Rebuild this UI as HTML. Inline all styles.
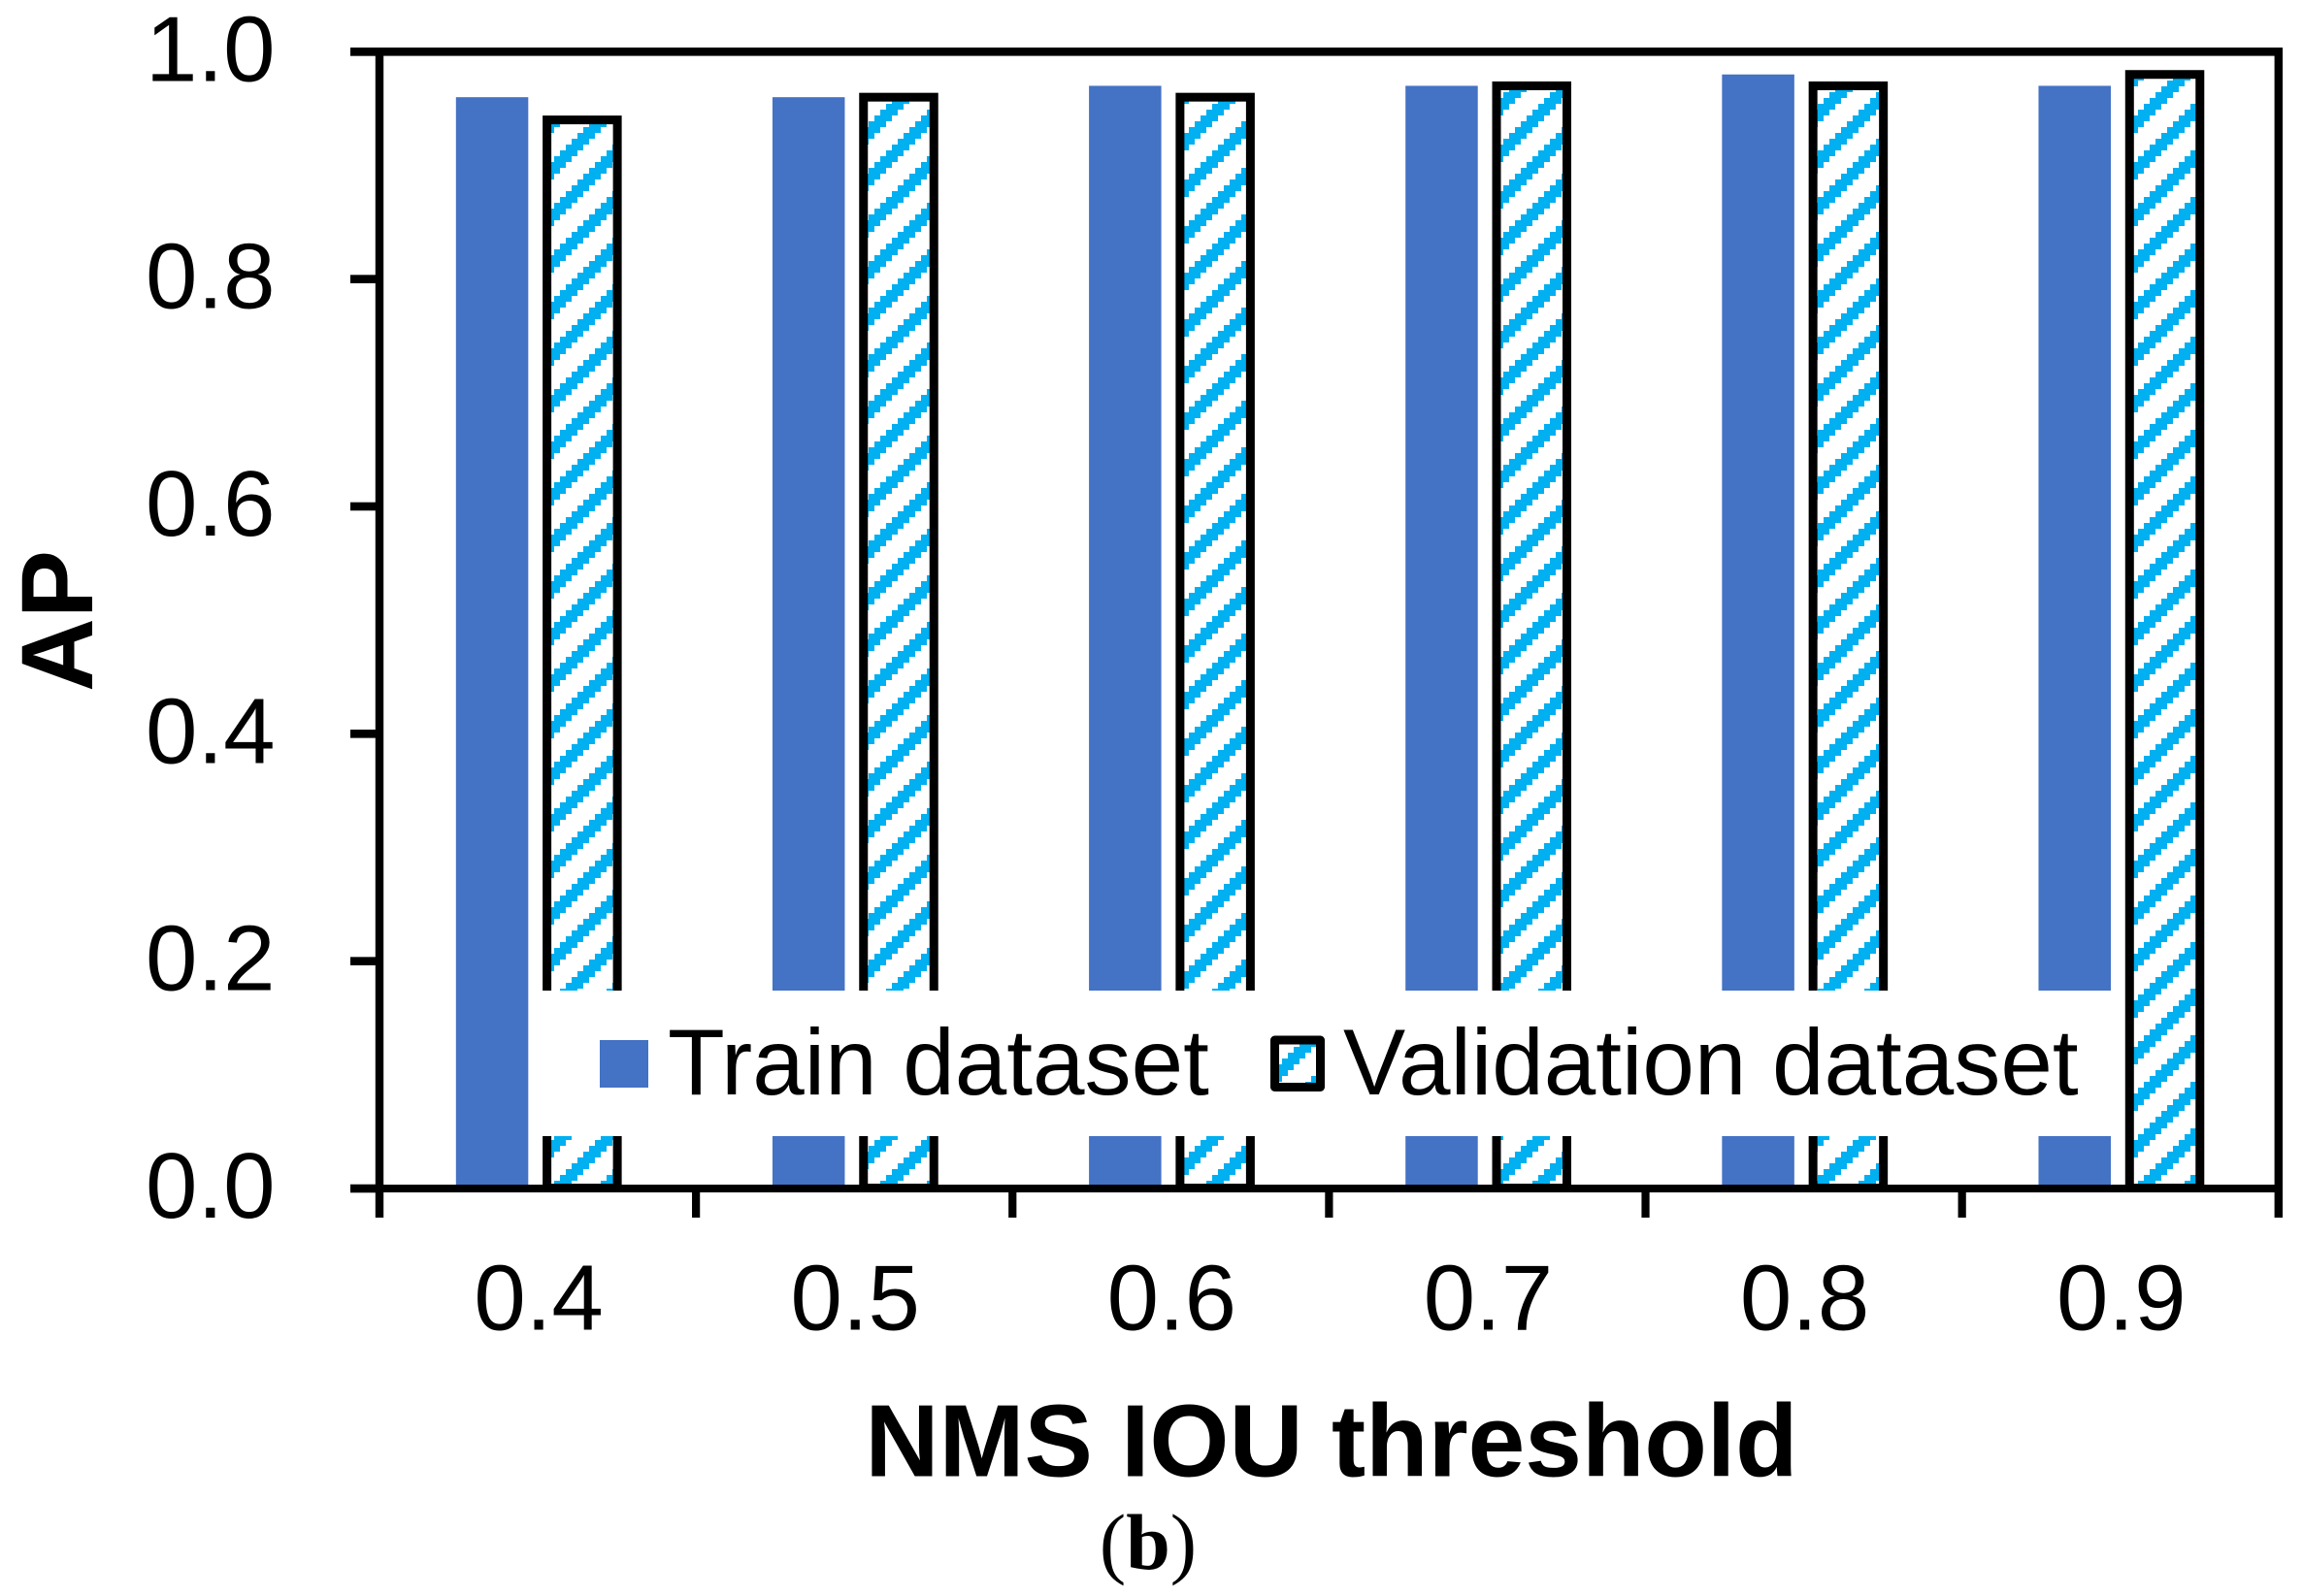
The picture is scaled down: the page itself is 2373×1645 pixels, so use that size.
<!DOCTYPE html>
<html lang="en">
<head>
<meta charset="utf-8">
<title>AP vs NMS IOU threshold</title>
<style>
  html, body { margin: 0; padding: 0; background: #ffffff; }
  body { width: 2373px; height: 1645px; overflow: hidden; }
  svg { display: block; }
  text { font-family: "Liberation Sans", Arial, sans-serif; fill: #000000; }
</style>
</head>
<body>
<svg id="chart" xmlns="http://www.w3.org/2000/svg" width="2373" height="1645" viewBox="0 0 2373 1645">
  <defs>
    <pattern id="stripe-pattern" patternUnits="userSpaceOnUse" x="1" y="5" width="48" height="48"></pattern>
  </defs>
  <rect x="0" y="0" width="2373" height="1645" fill="#ffffff"></rect>
  <g id="bars"></g>
  <g id="legend">
    <rect x="546" y="1021" width="1636" height="150" fill="#ffffff"></rect>
    <rect x="618" y="1072" width="50" height="49" fill="#4472C4"></rect>
    <text x="688" y="1128" font-size="96.2">Train dataset</text>
    <rect x="1313.5" y="1072" width="47" height="48.5" fill="url(#stripe-pattern)" stroke="#000000" stroke-width="9" stroke-linejoin="round"></rect>
    <text x="1384" y="1128" font-size="96.2">Validation dataset</text>
  </g>
  <g id="axes"></g>
  <g id="y-tick-labels"></g>
  <g id="x-tick-labels"></g>
  <text transform="translate(95 640) rotate(-90)" text-anchor="middle" font-size="105" font-weight="bold">AP</text>
  <text x="1372" y="1521.5" text-anchor="middle" font-size="105.5" font-weight="bold">NMS IOU threshold</text>
  <text x="1183" y="1617" text-anchor="middle" font-size="82" font-weight="bold" style="font-family:'Liberation Serif','Times New Roman',serif"><tspan font-weight="normal">(</tspan>b<tspan font-weight="normal">)</tspan></text>
</svg>
<script>
const categories = ["0.4", "0.5", "0.6", "0.7", "0.8", "0.9"];
const trainValues = [0.96, 0.96, 0.97, 0.97, 0.98, 0.97];
const validationValues = [0.94, 0.96, 0.96, 0.97, 0.97, 0.98];
const yTickLabels = ["0.0", "0.2", "0.4", "0.6", "0.8", "1.0"];

const NS = "http://www.w3.org/2000/svg";
const plotLeft = 391, plotRight = 2347.8, plotTop = 53.3, plotBottom = 1225;
const yMin = 0, yMax = 1;

function yScale(v) {
  return plotBottom - (v - yMin) / (yMax - yMin) * (plotBottom - plotTop);
}
function bandStart(i) {
  return plotLeft + i * (plotRight - plotLeft) / categories.length;
}
function bandCenter(i) {
  return bandStart(i) + (plotRight - plotLeft) / categories.length / 2;
}
function make(tag, attrs, parent) {
  const el = document.createElementNS(NS, tag);
  for (const k in attrs) el.setAttribute(k, attrs[k]);
  parent.appendChild(el);
  return el;
}

/* hatch: stair-stepped diagonal stripe */
const pattern = document.getElementById("stripe-pattern");
const cell = 6, tile = 48, stripeWidth = 18;
for (let j = 0; j < tile / cell; j++) {
  const left = (54 - cell * j) % tile;
  for (const shift of [0, -tile]) {
    const r = make("rect", { x: left + shift, y: j * cell, width: stripeWidth, height: cell, fill: "#00B0F0", "shape-rendering": "crispEdges" }, pattern);
    
    
  }
}

/* bars */
const barsGroup = document.getElementById("bars");
const trainOffset = -47, trainWidth = 74.5, validationOffset = 45.8, validationWidth = 72.5;
categories.forEach(function (cat, i) {
  const c = bandCenter(i);
  const ty = yScale(trainValues[i]);
  const tb = make("rect", { x: c + trainOffset - trainWidth / 2, y: ty, width: trainWidth, height: yScale(0) - ty, fill: "#4472C4" }, barsGroup);
  
  
  const vy = yScale(validationValues[i]);
  const vb = make("rect", { x: c + validationOffset - validationWidth / 2, y: vy, width: validationWidth, height: yScale(0) - vy - 0.5, fill: "url(#stripe-pattern)", stroke: "#000000", "stroke-width": 9 }, barsGroup);
  
  
});

/* last validation bar sits clear of the legend box */
const lastBar = barsGroup.lastChild;
document.getElementById("legend").after(lastBar);

/* axes */
const axes = document.getElementById("axes");
const tickOuterY = 1255, tickOuterX = 361;
const leftAxis = make("rect", { x: plotLeft - 4.2, y: plotTop - 4.3, width: 8.4, height: tickOuterY - plotTop + 4.3, fill: "#000" }, axes);


const rightAxis = make("rect", { x: plotRight - 4.2, y: plotTop - 4.3, width: 8.4, height: tickOuterY - plotTop + 4.3, fill: "#000" }, axes);


const topLine = make("rect", { x: tickOuterX, y: plotTop - 4.3, width: plotRight + 4.2 - tickOuterX, height: 8.6, fill: "#000" }, axes);


const bottomLine = make("rect", { x: tickOuterX, y: plotBottom - 4, width: plotRight + 4.2 - tickOuterX, height: 8, fill: "#000" }, axes);



const yLabelGroup = document.getElementById("y-tick-labels");
yTickLabels.forEach(function (label) {
  const y = yScale(parseFloat(label));
  const t = make("rect", { x: tickOuterX, y: y - 4.3, width: plotLeft - tickOuterX, height: 8.6, fill: "#000" }, axes);
  
  
  const txt = make("text", { x: 283.5, y: y + 30, "text-anchor": "end", "font-size": 96 }, yLabelGroup);
  
  
  txt.textContent = label;
});

const xLabelGroup = document.getElementById("x-tick-labels");
for (let i = 1; i < categories.length; i++) {
  const t = make("rect", { x: bandStart(i) - 4.1, y: plotBottom, width: 8.2, height: tickOuterY - plotBottom, fill: "#000" }, axes);
  
  
}
categories.forEach(function (cat, i) {
  const txt = make("text", { x: bandCenter(i) + 1, y: 1370.5, "text-anchor": "middle", "font-size": 96 }, xLabelGroup);
  
  
  txt.textContent = cat;
});
</script>
</body>
</html>
